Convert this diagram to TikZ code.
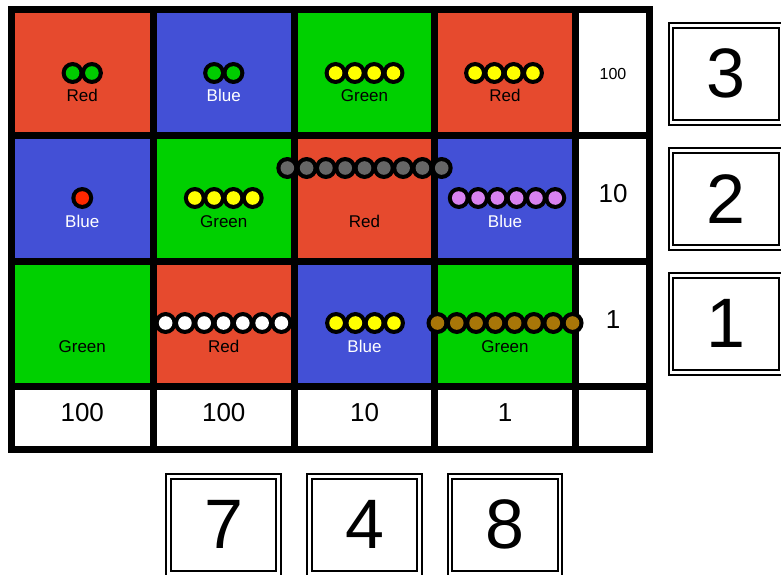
\documentclass[tikz,border=0pt]{standalone}
\usepackage{fontspec}
\setmainfont{Liberation Sans}
\definecolor{cred}{RGB}{230,74,46}
\definecolor{cblue}{RGB}{67,80,214}
\definecolor{cgreen}{RGB}{0,208,0}
\definecolor{bgreen}{RGB}{0,204,0}
\definecolor{byellow}{RGB}{255,255,0}
\definecolor{bred}{RGB}{255,40,0}
\definecolor{bgray}{RGB}{102,102,102}
\definecolor{bpink}{RGB}{216,130,240}
\definecolor{bbrown}{RGB}{168,118,8}
\newcommand\beadrow[4]{%
  \pgfmathsetmacro\bstart{#1-(#3-1)*19.3/2}%
  \foreach \i in {1,...,#3}{\fill[black] ({\bstart+(\i-1)*19.3},#2) circle[radius=11pt];}%
  \foreach \i in {1,...,#3}{\fill[#4] ({\bstart+(\i-1)*19.3},#2) circle[radius=6.8pt];}%
}
\begin{document}
\begin{tikzpicture}[x=1pt,y=-1pt,
  lbl/.style={anchor=base, inner sep=0, font=\fontsize{17}{20}\selectfont},
  numtxt/.style={inner sep=0, font=\fontsize{26}{30}\selectfont},
  smalltxt/.style={inner sep=0, font=\fontsize{16}{19}\selectfont},
  gridline/.style={line width=7pt, black},
  digitbox/.style={draw=black, line width=2pt, double=white, double distance=2.7pt,
    minimum width=110pt, minimum height=97pt, inner sep=0,
    font=\fontsize{70}{80}\selectfont}]
\useasboundingbox (0,0) rectangle (781,575);
\clip (0,0) rectangle (781,575);
% cells
\fill[cred]   (11.5,10) rectangle (153,135.5);
\fill[cblue]  (153,10) rectangle (294.5,135.5);
\fill[cgreen] (294.5,10) rectangle (434.5,135.5);
\fill[cred]   (434.5,10) rectangle (575.5,135.5);
\fill[cblue]  (11.5,135.5) rectangle (153,261.5);
\fill[cgreen] (153,135.5) rectangle (294.5,261.5);
\fill[cred]   (294.5,135.5) rectangle (434.5,261.5);
\fill[cblue]  (434.5,135.5) rectangle (575.5,261.5);
\fill[cgreen] (11.5,261.5) rectangle (153,386.5);
\fill[cred]   (153,261.5) rectangle (294.5,386.5);
\fill[cblue]  (294.5,261.5) rectangle (434.5,386.5);
\fill[cgreen] (434.5,261.5) rectangle (575.5,386.5);
% grid
\draw[gridline] (11.5,10) rectangle (649.5,449.5);
\foreach \x in {153,294.5,434.5,575.5} \draw[gridline] (\x,10) -- (\x,449.5);
\foreach \y in {135.5,261.5,386.5} \draw[gridline] (11.5,\y) -- (649.5,\y);
% beads
\beadrow{82.25}{73}{2}{bgreen}
\beadrow{223.75}{73}{2}{bgreen}
\beadrow{364.5}{73}{4}{byellow}
\beadrow{504}{73}{4}{byellow}
\beadrow{82.25}{198}{1}{bred}
\beadrow{223.75}{198}{4}{byellow}
\beadrow{364.5}{168}{9}{bgray}
\beadrow{507}{198}{6}{bpink}
\beadrow{223.5}{323}{7}{white}
\beadrow{365}{323}{4}{byellow}
\beadrow{505}{323}{8}{bbrown}
% labels
\node[lbl, text=black] (l11) at (82.25,102) {Red};
\node[lbl, text=white] (l12) at (223.75,102) {Blue};
\node[lbl, text=black] (l13) at (364.5,102) {Green};
\node[lbl, text=black] (l14) at (505,102) {Red};
\node[lbl, text=white] (l21) at (82.25,227) {Blue};
\node[lbl, text=black] (l22) at (223.75,227) {Green};
\node[lbl, text=black] (l23) at (364.5,227) {Red};
\node[lbl, text=white] (l24) at (505,227) {Blue};
\node[lbl, text=black] (l31) at (82.25,352) {Green};
\node[lbl, text=black] (l32) at (223.75,352) {Red};
\node[lbl, text=white] (l33) at (364.5,352) {Blue};
\node[lbl, text=black] (l34) at (505,352) {Green};
% right column numbers
\node[smalltxt] (r1) at (613,74) {100};
\node[numtxt] (r2) at (613,194) {10};
\node[numtxt] (r3) at (613,320) {1};
% bottom row numbers
\node[numtxt] (b1) at (82.25,413) {100};
\node[numtxt] (b2) at (223.75,413) {100};
\node[numtxt] (b3) at (364.5,413) {10};
\node[numtxt] (b4) at (505,413) {1};
% digit boxes
\node[digitbox] (d3) at (726,73.8) {3};
\node[digitbox] (d2) at (726,198.8) {2};
\node[digitbox] (d1) at (726,323.8) {1};
\node[digitbox] (d7) at (223.5,524.8) {7};
\node[digitbox] (d4) at (364.5,524.8) {4};
\node[digitbox] (d8) at (505,524.8) {8};
\end{tikzpicture}
\end{document}
